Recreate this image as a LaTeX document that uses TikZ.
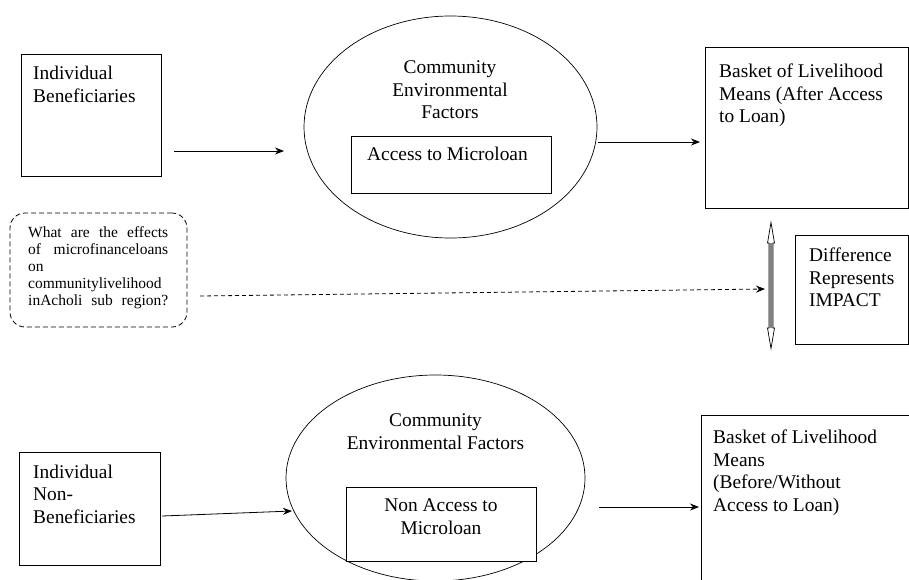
\documentclass[tikz,border=0pt]{standalone}
\usepackage{fontspec}
\setmainfont{Liberation Serif}
\usetikzlibrary{shapes.geometric,arrows.meta}
\begin{document}
\begin{tikzpicture}[x=1pt,y=-1pt,
  box/.style={draw,line width=0.8pt,inner sep=0pt},
  inbox/.style={draw,fill=white,line width=0.8pt,inner sep=0pt},
  oval/.style={draw,ellipse,line width=0.7pt,inner sep=0pt},
  txt/.style={inner sep=0pt,font=\fontsize{19.4}{22.7}\selectfont},
  small/.style={inner sep=0pt,font=\fontsize{15.5}{17}\selectfont},
  arr/.style={line width=0.8pt,-{Stealth[length=9pt,width=7pt]}}]
\useasboundingbox (0,0) rectangle (909,579);
% shapes
\node[box,minimum width=140pt,minimum height=122pt] (ben) at (91,115) {};
\node[oval,minimum width=293pt,minimum height=222pt] (ov1) at (450.5,127) {};
\node[inbox,minimum width=200pt,minimum height=57pt] (acc) at (451,164.5) {};
\node[box,minimum width=203pt,minimum height=161pt] (after) at (806.5,127.5) {};
\node[draw,dash pattern=on 5pt off 3pt,rounded corners=15pt,line width=0.8pt,minimum width=177pt,minimum height=114pt] (q) at (98.5,270) {};
\node[box,minimum width=113pt,minimum height=109pt] (diff) at (851.5,289.5) {};
\node[oval,minimum width=299pt,minimum height=206pt] (ov2) at (435.5,478) {};
\node[inbox,minimum width=190pt,minimum height=74pt] (nacc) at (441,524) {};
\node[box,minimum width=141pt,minimum height=113pt] (nben) at (89.5,508.5) {};
\node[box,minimum width=208pt,minimum height=175pt] (before) at (805,502.5) {};
% texts
\node[txt,anchor=north west,align=left] (t1) at (33,66) {Individual\\Beneficiaries};
\node[txt,anchor=north,align=center] (t2) at (450,60.5) {Community\\Environmental\\Factors};
\node[txt,anchor=base] (t3) at (447.5,160) {Access to Microloan};
\node[txt,anchor=north west,align=left] (t4) at (719,63.5) {Basket of Livelihood\\Means (After Access\\to Loan)};
\node[txt,anchor=north west,align=left] (t5) at (809,247.5) {Difference\\Represents\\IMPACT};
\node[small,anchor=north west,align=left] (t6) at (28,226) {%
\hbox to 140pt{What\hfill are\hfill the\hfill effects}\\
\hbox to 140pt{of\hfill microfinanceloans}\\
on\\
\hbox to 140pt{communitylivelihood}\\
\hbox to 140pt{inAcholi\hfill sub\hfill region?}};
\node[txt,anchor=north,align=center] (t7) at (435.5,413.5) {Community\\Environmental Factors};
\node[txt,anchor=north,align=center] (t8) at (441,498.5) {Non Access to\\Microloan};
\node[txt,anchor=north west,align=left] (t9) at (33,464.5) {Individual\\Non-\\Beneficiaries};
\node[txt,anchor=north west,align=left] (t10) at (713,429.5) {Basket of Livelihood\\Means\\(Before/Without\\Access to Loan)};
% connector end points
\coordinate (a1s) at (174,151); \coordinate (a1e) at (284,151);
\coordinate (a2s) at (598,142); \coordinate (a2e) at (700,142);
\coordinate (a3s) at (200,296); \coordinate (a3e) at (765,289);
\coordinate (a4s) at (162,516); \coordinate (a4e) at (292,511);
\coordinate (a5s) at (599,507); \coordinate (a5e) at (699,507);
\draw[arr] (a1s) -- (a1e);
\draw[arr] (a2s) -- (a2e);
\draw[arr,dash pattern=on 4pt off 3pt] (a3s) -- (a3e);
\draw[arr] (a4s) -- (a4e);
\draw[arr] (a5s) -- (a5e);
% double-headed hollow arrow
\draw[line width=0.7pt,fill=white] (771,222.5) -- (774.5,243) -- (773,243) -- (773,328) -- (774.5,328) -- (771,348.5) -- (767.5,328) -- (769,328) -- (769,243) -- (767.5,243) -- cycle;
\fill[gray] (769.4,243) rectangle (772.6,328);
\end{tikzpicture}
\end{document}
